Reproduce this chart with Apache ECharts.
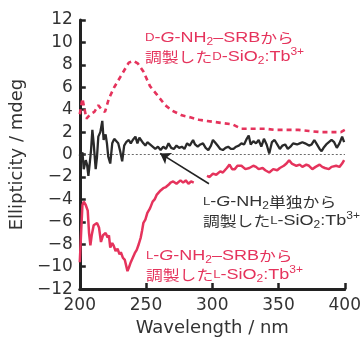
<!DOCTYPE html>
<html><head><meta charset="utf-8">
<script src="https://cdn.jsdelivr.net/npm/echarts@6/dist/echarts.min.js"></script>
<style>html,body{margin:0;padding:0;background:#fff}#c{width:364px;height:342px}</style>
</head><body><div id="c"></div>
<script>
// D-G-NH2–SRB (dashed red)
const dX = [200,202,205,208,211,214,216.5,219,222,226,231,237,240.5,244,248,253,258.5,264.5,270,277,284,290,296,302,308,315,322,330,340,347,355,365,373,382,390,397,400];
const dY = [3.6,5.0,3.2,3.6,3.8,4.4,4.0,3.8,5.0,6.0,7.0,8.2,8.35,8.1,7.4,6.1,5.3,4.4,3.9,3.5,3.3,3.1,3.0,2.9,2.8,2.7,2.3,2.3,2.3,2.2,2.2,2.2,2.1,2.0,2.0,2.0,2.2];
// L-G-NH2–SRB (solid red)
const lX = [200,201,202,203,204.5,206,207,208,209,210.5,212,213,214.5,216,217.5,219.5,221,222,223,224.5,225.5,227,228.5,230,231,232.5,234,236,237,238.5,240,241.5,243,244.5,246,247,248,249.5,251,253,255,256.5,258,259.5,261,263,265,267,268.5,270.5,273,276,278,280,282,284,286,290,296,298,300.5,303,306,308,311,313,315,317,319,322,325,328,331,333,335,338,340,343,346,349,351,354,356,358,360,363.5,366,368,371,373,375.5,378,381,383,385,388,390,393.5,396,398,399.5];
const lY = [-9.6,-7.0,-4.5,-4.2,-4.5,-5.0,-7.0,-8.1,-7.2,-6.3,-6.4,-6.1,-6.5,-7.8,-7.2,-7.0,-7.4,-7.2,-8.3,-7.9,-8.1,-8.6,-8.4,-8.9,-8.7,-9.2,-9.4,-10.4,-10.1,-9.6,-9.2,-8.8,-8.5,-8.0,-7.4,-6.8,-6.1,-5.8,-5.2,-4.8,-4.2,-4.0,-3.6,-3.7,-3.2,-3.0,-2.9,-2.7,-2.5,-2.4,-2.6,-2.3,-2.5,-2.3,-2.6,-2.4,-2.5,null,-1.9,-2.0,-1.7,-1.8,-1.5,-1.6,-1.2,-0.9,-1.3,-1.3,-1.0,-1.0,-1.3,-1.2,-1.0,-1.1,-1.3,-1.2,-1.4,-1.6,-1.3,-1.4,-1.2,-1.0,-0.8,-0.5,-0.8,-1.0,-0.9,-1.1,-0.9,-1.0,-1.3,-1.1,-0.9,-1.1,-1.2,-1.3,-1.1,-1.0,-1.1,-0.8,-0.5];
// L-G-NH2 alone (black)
const bX = [200,201,202,203,204.5,205.5,206.5,207.5,208.5,209.5,210.5,212,213,214,215.5,217,218,219.5,220.5,221.5,223,224.5,226,227.5,229,230.5,232,233.5,235,237,238.5,240,242,243.5,245,246.5,248,249.5,251,253,255,257,259,261,263,265,267,269,271,273,275,277,279,281,283,285.5,287,289,291,293,295,297,299,300.5,302,304,306,308,310,312,314,316,318,320,322,324,326,327.5,329,331,333,335,337,339,341,343,345,347,349,351,353,355,357,359,361,364,366,368,370,373,375,377,379,381,382.5,384,386,388,390,392,394,396,398,399.5];
const bY = [0.0,-0.5,0.2,-1.3,-0.5,-0.9,-1.9,-0.8,0.4,2.2,1.0,-1.3,-0.2,1.6,2.0,3.0,1.3,1.8,1.0,-0.2,-0.8,1.0,1.4,1.3,1.0,0.3,-0.6,0.8,1.1,1.3,1.0,1.3,1.6,1.0,1.5,1.6,1.0,0.8,1.1,0.9,0.7,0.5,0.7,0.4,0.7,0.5,1.0,0.6,0.5,0.8,0.6,0.7,0.5,1.0,0.8,1.3,0.9,0.7,0.9,1.0,0.6,0.4,0.8,1.3,1.1,0.8,0.5,0.4,0.6,0.7,0.5,0.5,0.7,0.8,1.0,0.9,1.4,1.7,0.9,1.2,1.0,1.3,0.7,1.4,0.9,0.1,1.1,1.3,0.9,0.5,0.8,0.9,0.5,0.7,1.0,0.9,1.0,1.1,1.0,0.8,0.9,1.3,0.9,0.5,0.3,0.6,0.9,1.1,1.3,1.1,0.6,1.0,1.6,1.1];
// annotation arrow (data coords): tail -> head
const arrowFrom = [297.5, -2.6];
const arrowTo = [260.7, 0.1];

const RED = '#e5335c', BLK = '#2a2a2a', TXT = '#333';
const F = "'Liberation Sans', Arial, 'Noto Sans CJK JP', sans-serif";
const FA = "'DejaVu Sans', 'Liberation Sans', sans-serif";
const FJ = "'Noto Sans CJK JP', sans-serif";
const zip = (xs, ys) => xs.map((x, i) => [x, ys[i]]);

function rich(c) {
  const LH = 19;
  return {
    n: {fontSize: 15, fontFamily: F, fill: c, lineHeight: LH},
    j: {fontSize: 14, fontFamily: FJ, fill: c, lineHeight: LH},
    sc: {fontSize: 11, fontFamily: F, fill: c, lineHeight: LH},
    i: {fontSize: 15, fontFamily: F, fill: c, fontStyle: 'italic', lineHeight: LH},
    sub: {fontSize: 10, fontFamily: F, fill: c, lineHeight: 11, verticalAlign: 'bottom'},
    sup: {fontSize: 10, fontFamily: F, fill: c, lineHeight: 11, verticalAlign: 'top'}
  };
}
const txtD = '{sc|D}{n|-}{i|G}{n|-NH}{sub|2}{n|–SRB}{j|から}\n{j|調製した}{sc|D}{n|-SiO}{sub|2}{n|:Tb}{sup|3+}';
const txtB = '{sc|L}{n|-}{i|G}{n|-NH}{sub|2}{j|単独から}\n{j|調製した}{sc|L}{n|-SiO}{sub|2}{n|:Tb}{sup|3+}';
const txtL = '{sc|L}{n|-}{i|G}{n|-NH}{sub|2}{n|–SRB}{j|から}\n{j|調製した}{sc|L}{n|-SiO}{sub|2}{n|:Tb}{sup|3+}';
const SX = 1.2;

const chart = echarts.init(document.getElementById('c'), null, {renderer: 'canvas'});
chart.setOption({
  animation: false,
  backgroundColor: '#fff',
  grid: {left: 79, right: 18, top: 20, bottom: 46, containLabel: false},
  xAxis: {
    type: 'value', min: 200, max: 400, interval: 50,
    name: 'Wavelength / nm', nameLocation: 'middle', nameGap: 24,
    nameTextStyle: {fontSize: 18, color: TXT, fontFamily: FA},
    axisLine: {show: true, onZero: false, lineStyle: {color: '#222', width: 3}},
    axisTick: {show: true, inside: true, length: 6, lineStyle: {color: '#222', width: 2.5}},
    axisLabel: {fontSize: 17, color: TXT, fontFamily: FA, margin: 8},
    splitLine: {show: false}
  },
  yAxis: {
    type: 'value', min: -12, max: 12, interval: 2,
    name: 'Ellipticity / mdeg', nameLocation: 'middle', nameGap: 47,
    nameTextStyle: {fontSize: 18, color: TXT, fontFamily: FA},
    axisLine: {show: true, onZero: false, lineStyle: {color: '#222', width: 3}},
    axisTick: {show: true, inside: true, length: 6, lineStyle: {color: '#222', width: 2.5}},
    axisLabel: {fontSize: 17, color: TXT, fontFamily: FA, margin: 7,
      formatter: v => v < 0 ? '−' + (-v) : String(v)},
    splitLine: {show: false}
  },
  series: [
    {type: 'line', data: zip(dX, dY), showSymbol: false, symbol: 'none',
     lineStyle: {color: RED, width: 2.6, type: [5, 4]}, z: 3},
    {type: 'line', data: zip(lX, lY), showSymbol: false, symbol: 'none', connectNulls: false,
     lineStyle: {color: RED, width: 2.5}, z: 3},
    {type: 'line', data: zip(bX, bY), showSymbol: false, symbol: 'none',
     lineStyle: {color: BLK, width: 2.3}, z: 4,
     markLine: {silent: true, animation: false, label: {show: false},
       data: [
         [{coord: [200, 0], symbol: 'none'}, {coord: [400, 0], symbol: 'none'}],
       ],
       lineStyle: {color: '#444', width: 0.8, type: [2, 2]}, z: 2}
    },
    {type: 'line', data: [], markLine: {silent: true, animation: false, label: {show: false},
       symbol: ['none', 'arrow'], symbolSize: 10,
       data: [[{coord: arrowFrom}, {coord: arrowTo}]],
       lineStyle: {color: '#222', width: 1.6, type: 'solid'}}, z: 5}
  ],
  graphic: [
    {type: 'text', left: 145, top: 30, scaleX: SX, style: {text: txtD, rich: rich(RED)}},
    {type: 'text', left: 203, top: 194, scaleX: SX, style: {text: txtB, rich: rich(TXT)}},
    {type: 'text', left: 146, top: 248, scaleX: SX, style: {text: txtL, rich: rich(RED)}}
  ]
});
</script></body></html>
